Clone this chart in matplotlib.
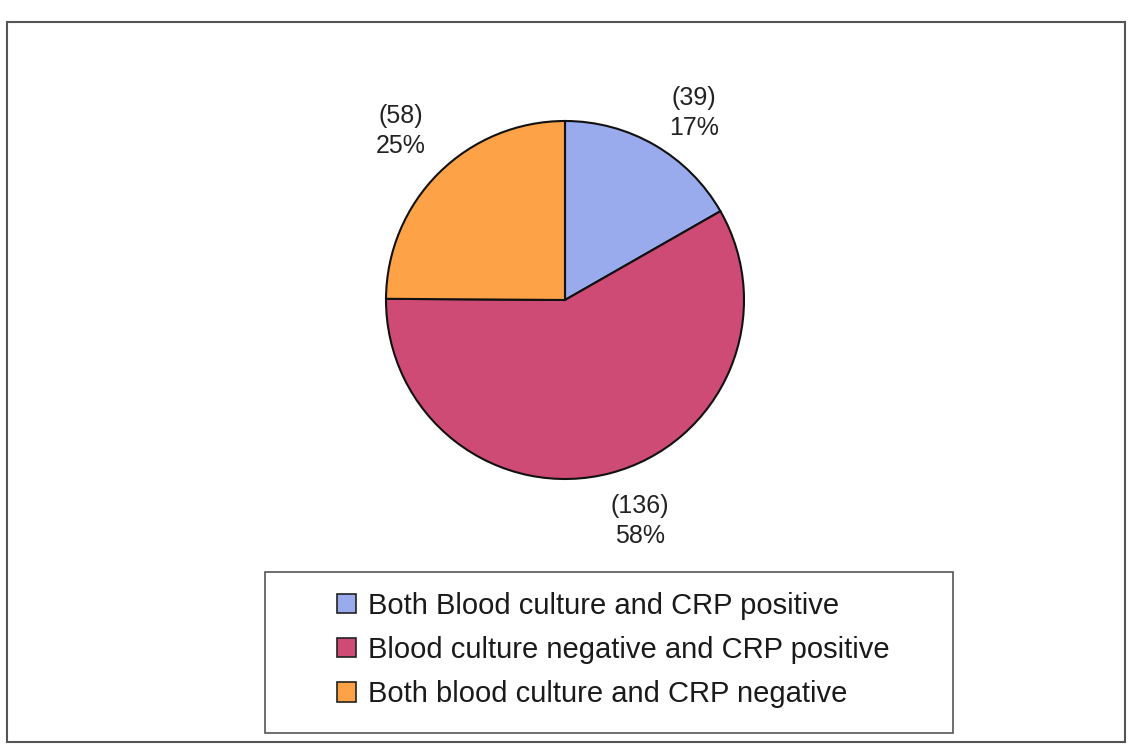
import matplotlib
matplotlib.use("Agg")
import matplotlib.pyplot as plt
from matplotlib.patches import Rectangle, Patch

# data
categories = ["Both Blood culture and CRP positive",
              "Blood culture negative and CRP positive",
              "Both blood culture and CRP negative"]
counts = [39, 136, 58]
percents = [17, 58, 25]
colors = ["#99abec", "#cd4b74", "#fda246"]

plt.rcParams["font.family"] = ["Liberation Sans", "DejaVu Sans"]

fig = plt.figure(figsize=(11.3, 7.51), dpi=100)
W, H = 1130, 751

# outer frame of the scanned figure
fig.patches.append(Rectangle((7 / W, 1 - 742 / H), 1118 / W, 720 / H,
                             transform=fig.transFigure, fill=False,
                             edgecolor="#555555", linewidth=1.5))

# pie: centre (565, 300) px, radius 179 px
cx, cy, r = 565, 300, 179
ax = fig.add_axes([(cx - r) / W, 1 - (cy + r) / H, 2 * r / W, 2 * r / H])
ax.pie(counts, colors=colors, startangle=90, counterclock=False,
       wedgeprops=dict(edgecolor="#111111", linewidth=1.5), radius=1)
ax.set_xlim(-1, 1)
ax.set_ylim(-1, 1)
ax.set_aspect("auto")
ax.axis("off")

# label positions in pie units (centre at 0,0)
label_pos = [(0.72, 1.045), (0.42, -1.235), (-0.92, 0.944)]
for (x, y), n, p in zip(label_pos, counts, percents):
    ax.text(x, y, f"({n})\n{p}%", ha="center", va="center", fontsize=18,
            color="#222222", linespacing=1.3, clip_on=False)

# legend box
handles = [Patch(facecolor=c, edgecolor="#222222", linewidth=1.2) for c in colors]
leg = fig.legend(handles, categories, loc="center",
                 bbox_to_anchor=(613 / W, 1 - 650 / H), fontsize=21,
                 frameon=False, handlelength=0.65, handleheight=0.65,
                 handletextpad=0.4, labelspacing=0.55, borderpad=0)
for t in leg.get_texts():
    t.set_color("#1a1a1a")
fig.patches.append(Rectangle((265 / W, 1 - 733 / H), 688 / W, 161 / H,
                             transform=fig.transFigure, fill=False,
                             edgecolor="#555555", linewidth=1.2))

fig.savefig("out.png", dpi=100)
